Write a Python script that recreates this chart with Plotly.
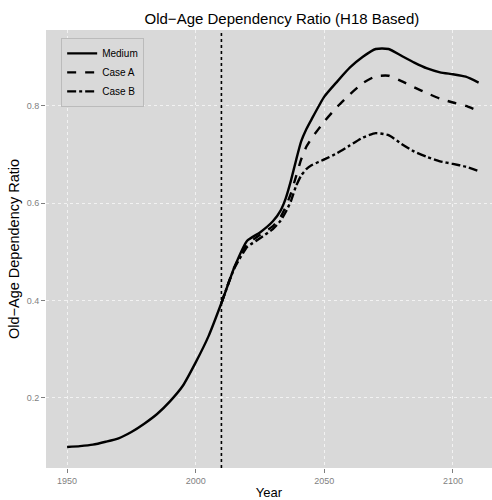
import plotly.graph_objects as go

# Old-age dependency ratio projections (H18 based)
years_hist = [1950, 1955, 1960, 1965, 1970, 1975, 1980, 1985, 1990, 1995, 2000, 2005, 2010]
medium_hist = [0.099, 0.101, 0.104, 0.110, 0.117, 0.130, 0.147, 0.167, 0.193, 0.225, 0.273, 0.327, 0.395]

years_proj = [2010, 2015, 2020, 2025, 2030, 2033, 2035, 2037, 2039, 2041, 2043, 2045, 2050,
              2055, 2060, 2065, 2070, 2075, 2080, 2085, 2090, 2095, 2100, 2105, 2110]
medium_proj = [0.395, 0.468, 0.523, 0.540, 0.563, 0.585, 0.610, 0.646, 0.688, 0.727, 0.752, 0.772, 0.819,
               0.850, 0.879, 0.901, 0.917, 0.917, 0.903, 0.889, 0.877, 0.869, 0.865, 0.860, 0.848]
case_a = [0.395, 0.468, 0.515, 0.535, 0.553, 0.572, 0.593, 0.620, 0.655, 0.690, 0.716, 0.733, 0.768,
          0.798, 0.824, 0.847, 0.861, 0.862, 0.851, 0.838, 0.826, 0.815, 0.807, 0.800, 0.790]
case_b = [0.395, 0.466, 0.510, 0.528, 0.547, 0.564, 0.582, 0.604, 0.635, 0.657, 0.670, 0.678, 0.690,
          0.703, 0.719, 0.735, 0.744, 0.740, 0.722, 0.706, 0.695, 0.686, 0.681, 0.675, 0.666]

base_year = 2010
x_ticks = [1950, 2000, 2050, 2100]
y_ticks = [0.2, 0.4, 0.6, 0.8]

FONT = "Liberation Sans, Arial, sans-serif"
LW = 2.4
SMOOTH = 0.5

fig = go.Figure()
fig.add_trace(go.Scatter(
    x=years_hist + years_proj[1:], y=medium_hist + medium_proj[1:],
    mode="lines", name="Medium",
    line=dict(color="black", width=LW, shape="spline", smoothing=SMOOTH),
))
fig.add_trace(go.Scatter(
    x=years_proj, y=case_a, mode="lines", name="Case A",
    line=dict(color="black", width=LW, dash="dash", shape="spline", smoothing=SMOOTH),
))
fig.add_trace(go.Scatter(
    x=years_proj, y=case_b, mode="lines", name="Case B",
    line=dict(color="black", width=LW, dash="dashdot", shape="spline", smoothing=SMOOTH),
))

fig.add_vline(x=base_year, line=dict(color="black", width=1.6, dash="dot"))

axis_common = dict(
    showline=False, zeroline=False, ticks="outside", ticklen=4, tickwidth=1,
    tickcolor="#7F7F7F", tickfont=dict(family=FONT, size=9, color="#7F7F7F"),
    showgrid=True, gridcolor="#F2F2F2", gridwidth=1, griddash="dot",
)

fig.update_layout(
    width=492, height=500,
    margin=dict(l=46, r=0, t=30, b=26),
    paper_bgcolor="white", plot_bgcolor="#D9D9D9",
    font=dict(family=FONT, color="black"),
    title=dict(text="Old\u2212Age Dependency Ratio (H18 Based)", x=0.573, xref="container",
               xanchor="center", y=0.962, yanchor="middle",
               font=dict(family=FONT, size=15, color="black")),
    xaxis=dict(range=[1941.8, 2115.2], tickvals=x_ticks, ticktext=[str(v) for v in x_ticks],
               title=dict(text="Year", font=dict(family=FONT, size=13), standoff=5),
               **axis_common),
    yaxis=dict(range=[0.056, 0.956], tickvals=y_ticks, ticktext=[f"{v:.1f}" for v in y_ticks],
               title=dict(text="Old\u2212Age Dependency Ratio", font=dict(family=FONT, size=14.5), standoff=3),
               **axis_common),
    legend=dict(x=0.034, y=0.982, xanchor="left", yanchor="top",
                bgcolor="#D9D9D9", bordercolor="#BBBBBB", borderwidth=1,
                font=dict(family=FONT, size=10, color="black"),
                tracegroupgap=0, itemwidth=30),
    showlegend=True,
)

fig.write_html("out.html")
